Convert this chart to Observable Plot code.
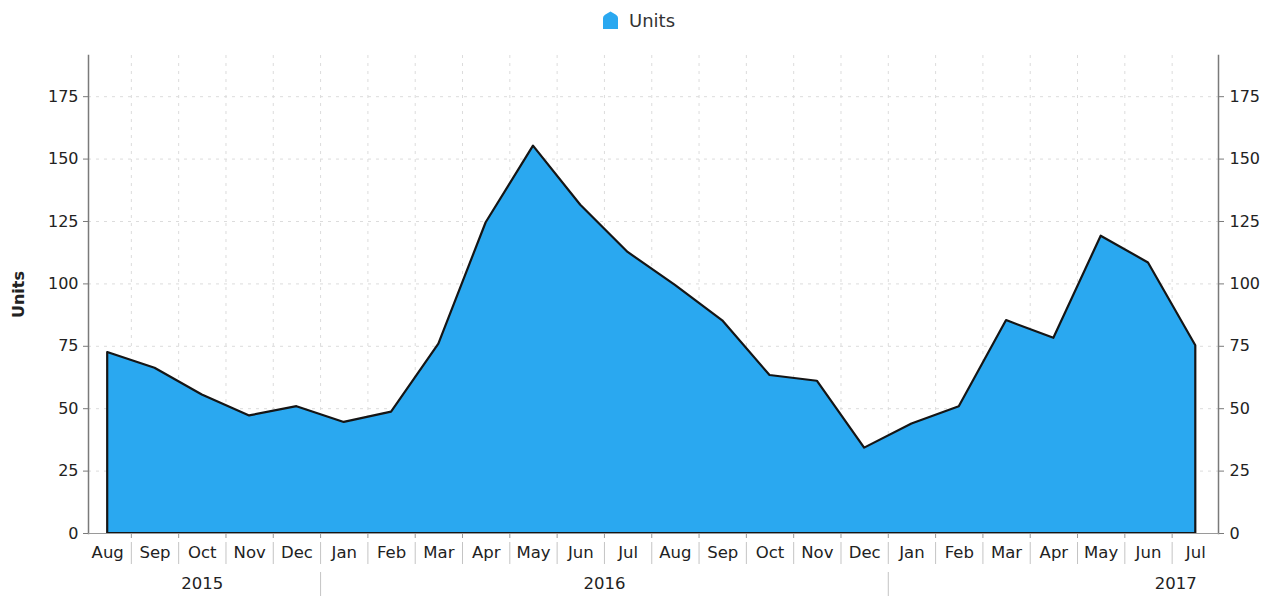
<!DOCTYPE html>
<html>
<head>
<meta charset="utf-8">
<script src="https://cdn.jsdelivr.net/npm/d3@7"></script>
<script src="https://cdn.jsdelivr.net/npm/@observablehq/plot@0.6"></script>
<style>
  html, body { margin: 0; padding: 0; background: #fff; }
  body { width: 1281px; font-family: "DejaVu Sans", sans-serif; }
  #legend { height: 40px; display: flex; align-items: center; justify-content: center; gap: 10px; color: #333; font-size: 18px; padding-right: 4px; box-sizing: border-box; }
  #legend svg { display: block; }
</style>
</head>
<body>
<div id="legend"></div>
<div id="chart"></div>
<script>
// ---- data ----
const months = ["Aug","Sep","Oct","Nov","Dec",
  "Jan","Feb","Mar","Apr","May","Jun","Jul","Aug","Sep","Oct","Nov","Dec",
  "Jan","Feb","Mar","Apr","May","Jun","Jul"];
const monthYears = [2015,2015,2015,2015,2015,
  2016,2016,2016,2016,2016,2016,2016,2016,2016,2016,2016,2016,
  2017,2017,2017,2017,2017,2017,2017];
const units = [72.5, 66.2, 55.5, 47.1, 50.8,
  44.5, 48.6, 75.9, 124.5, 155.2, 131.5, 112.6, 99.4, 85.2, 63.3, 61.0, 34.2,
  43.9, 50.8, 85.3, 78.2, 119.1, 108.4, 75.2];
const yTicks = [0, 25, 50, 75, 100, 125, 150, 175];
const seriesName = "Units";

// ---- derived tables ----
const data = months.map((m, i) => ({i, month: m, year: monthYears[i], units: units[i]}));
const boundaries = d3.range(0.5, months.length - 1, 1);
const years = Array.from(new Set(monthYears));
const yearSpans = years.map(y => {
  const idx = data.filter(d => d.year === y).map(d => d.i);
  return {year: String(y), first: d3.min(idx), last: d3.max(idx), center: (d3.min(idx) + d3.max(idx)) / 2};
});
const yearBreaks = yearSpans.slice(1).map(s => s.first - 0.5);

const FILL = "#2aa8f0";
const W = 1281, H = 556, mT = 15, mB = 63, mL = 88, mR = 63;
const frameH = H - mT - mB;
const font = "DejaVu Sans, sans-serif";

// ---- legend ----
document.getElementById("legend").innerHTML =
  `<svg width="17" height="19" viewBox="0 0 17 19"><path d="M1,18 L1,7 Q1,5 3,3.8 L8.5,0.5 L14,3.8 Q16,5 16,7 L16,18 Z" fill="${FILL}"/></svg><span>${seriesName}</span>`;

// ---- chart ----
const chart = Plot.plot({
  width: W, height: H,
  marginTop: mT, marginBottom: mB, marginLeft: mL, marginRight: mR,
  style: {fontFamily: font, fontSize: "16px", color: "#222", background: "#fff"},
  x: {type: "linear", domain: [0, months.length - 1], range: [107.2, 1195.3], axis: null},
  y: {domain: [0, 191.5], axis: null},
  marks: [
    // grid
    Plot.ruleY(yTicks.filter(d => d > 0), {stroke: "#dcdcdc", strokeDasharray: "3,5"}),
    Plot.ruleX(boundaries, {stroke: "#dcdcdc", strokeDasharray: "3,5"}),
    // area
    Plot.areaY(data, {x: "i", y: "units", fill: FILL, stroke: "#151515", strokeWidth: 2.2, strokeLinejoin: "round"}),
    // axis lines
    Plot.frame({anchor: "left", stroke: "#7a7a7a", strokeWidth: 1.5}),
    Plot.frame({anchor: "right", stroke: "#7a7a7a", strokeWidth: 1.5}),
    Plot.frame({anchor: "bottom", stroke: "#9a9a9a", strokeWidth: 1.2}),
    // y axes
    Plot.axisY(yTicks, {anchor: "left", tickSize: 5, tickPadding: 5, label: null, stroke: "#7a7a7a", fill: "#222", fontSize: 16}),
    Plot.axisY(yTicks, {anchor: "right", tickSize: 5, tickPadding: 6, label: null, stroke: "#7a7a7a", fill: "#222", fontSize: 16}),
    Plot.text([seriesName], {frameAnchor: "left", textAnchor: "middle", dx: -70, rotate: -90, fontWeight: "bold", fontSize: 16, fill: "#222"}),
    // x tick marks at month boundaries
    Plot.ruleX(boundaries, {insetTop: frameH, insetBottom: -5, stroke: "#9a9a9a"}),
    // month separators
    Plot.ruleX(boundaries, {insetTop: frameH + 9, insetBottom: -31, stroke: "#c4c4c4"}),
    // year separators
    Plot.ruleX(yearBreaks, {insetTop: frameH + 39, insetBottom: -63, stroke: "#c4c4c4"}),
    // month labels
    Plot.text(data, {x: "i", text: "month", frameAnchor: "bottom", dy: 24, fontSize: 16.5, fill: "#222"}),
    // year labels
    Plot.text(yearSpans.slice(0, -1), {x: "center", text: "year", frameAnchor: "bottom", dy: 55, fontSize: 16.5, fill: "#222"}),
    Plot.text(yearSpans.slice(-1), {x: "last", text: "year", frameAnchor: "bottom", dy: 55, textAnchor: "end", dx: 1, fontSize: 16.5, fill: "#222"})
  ]
});
document.getElementById("chart").appendChild(chart);
</script>
</body>
</html>
